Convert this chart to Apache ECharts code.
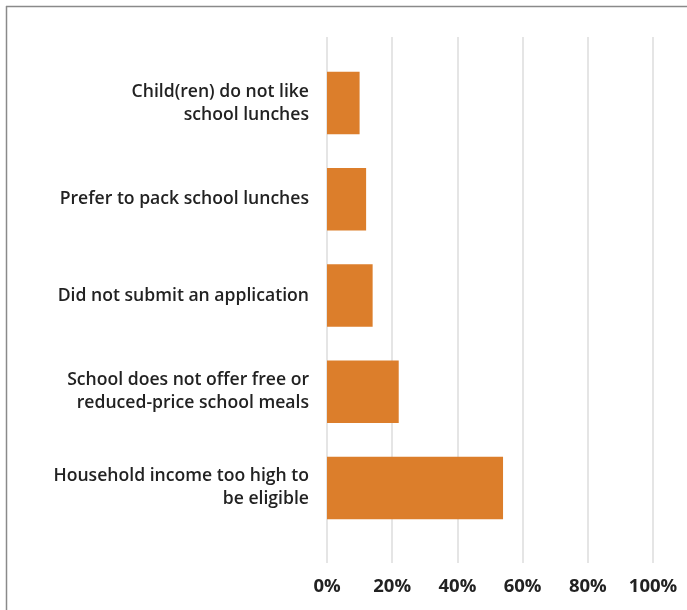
<!DOCTYPE html>
<html>
<head>
<meta charset="utf-8">
<script src="https://cdn.jsdelivr.net/npm/echarts@6/dist/echarts.min.js"></script>
<style>
html,body{margin:0;padding:0;background:#fff;}
#chart{width:687px;height:610px;}
</style>
</head>
<body>
<div id="chart"></div>
<script>
const categories = [
  "Child(ren) do not like\nschool lunches",
  "Prefer to pack school lunches",
  "Did not submit an application",
  "School does not offer free or\nreduced-price school meals",
  "Household income too high to\nbe eligible"
];
const values = [10, 12, 14, 22, 54];
const tickLabels = ["0%", "20%", "40%", "60%", "80%", "100%"];

const FONT = "Open Sans";
const chart = echarts.init(document.getElementById('chart'), null, {renderer: 'canvas'});
const option = {
  backgroundColor: '#ffffff',
  animation: false,
  graphic: [
    {type: 'line', shape: {x1: 6.5, y1: 6, x2: 6.5, y2: 610}, style: {stroke: '#8a8a8a', lineWidth: 1.5}},
    {type: 'line', shape: {x1: 6, y1: 6.5, x2: 687, y2: 6.5}, style: {stroke: '#8a8a8a', lineWidth: 1.5}}
  ],
  grid: [
    {left: 327, right: 34, top: 55, height: 481},
    {left: 327, right: 34, top: 37, height: 526}
  ],
  xAxis: [
    {type: 'value', gridIndex: 0, min: 0, max: 100, interval: 20, show: false},
    {type: 'value', gridIndex: 1, min: 0, max: 100, interval: 20,
     axisLine: {show: false}, axisTick: {show: false},
     splitLine: {show: true, lineStyle: {color: '#dcdcdc', width: 1.5}},
     axisLabel: {margin: 14, color: '#222', fontFamily: FONT, fontWeight: 'bold', fontSize: 18.5,
       formatter: function (v) { return tickLabels[Math.round(v / 20)]; }}}
  ],
  yAxis: [
    {type: 'category', gridIndex: 0, data: categories, inverse: true,
     axisLine: {show: false}, axisTick: {show: false}, splitLine: {show: false},
     axisLabel: {margin: 18, color: '#222', fontFamily: FONT, fontWeight: 600, fontSize: 17.6, lineHeight: 23, align: 'right'}},
    {type: 'category', gridIndex: 1, data: categories, show: false}
  ],
  series: [
    {type: 'bar', xAxisIndex: 0, yAxisIndex: 0, data: values, barCategoryGap: '35%',
     itemStyle: {color: '#DC7E2B'}}
  ]
};
chart.setOption(option);
</script>
</body>
</html>
